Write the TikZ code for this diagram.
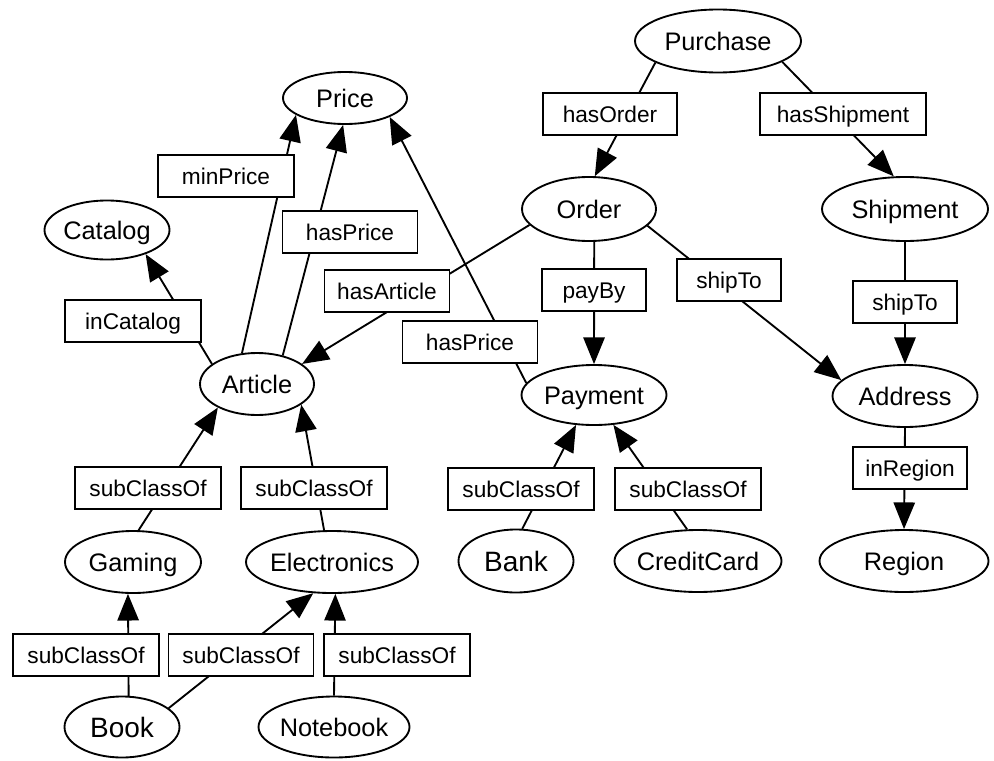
\documentclass[tikz,border=0pt]{standalone}
\usepackage{fontspec}
\setmainfont{Liberation Sans}
\usetikzlibrary{shapes.geometric,arrows.meta}
\begin{document}
\begin{tikzpicture}[x=0.75pt,y=-0.75pt,
  ell/.style={ellipse, draw, line width=1.4pt, fill=white, inner xsep=-8pt, inner ysep=0pt,
    minimum height=46.5pt, font=\fontsize{19}{19}\selectfont, text height=13.6pt, text depth=0pt},
  bigell/.style={ell, font=\fontsize{21}{21}\selectfont, text height=15pt},
  lbl/.style={rectangle, draw, line width=1.4pt, fill=white, inner sep=0pt,
    minimum height=31.5pt, font=\fontsize{17}{17}\selectfont, text height=12.2pt, text depth=0pt},
  conn/.style={line width=1.4pt, -{Triangle[length=20pt,width=16pt]}}
]
\useasboundingbox (0,0) rectangle (994,760);

% classes
\node[ell, minimum width=124.5pt, minimum height=47.25pt] (Purchase) at (718,41) {Purchase};
\node[ell, minimum width=93pt, minimum height=39pt] (Price) at (345,98) {Price};
\node[ell, minimum width=93.75pt, minimum height=44.25pt] (Catalog) at (107,230) {Catalog};
\node[ell, minimum width=85.5pt] (Article) at (257,384) {Article};
\node[ell, minimum width=100.5pt, minimum height=48pt] (Order) at (589,209) {Order};
\node[ell, minimum width=124.5pt, minimum height=48pt] (Shipment) at (905,209) {Shipment};
\node[ell, minimum width=108.75pt, minimum height=45pt] (Payment) at (594,395) {Payment};
\node[ell, minimum width=108.75pt] (Address) at (905,396) {Address};
\node[ell, minimum width=102pt] (Gaming) at (133,562) {Gaming};
\node[ell, minimum width=129pt] (Electronics) at (332,562) {Electronics};
\node[bigell, minimum width=86.25pt, minimum height=45.75pt] (Book) at (122,727) {Book};
\node[ell, minimum width=113.25pt, minimum height=45.75pt] (Notebook) at (334,727) {Notebook};
\node[bigell, minimum width=86.25pt, minimum height=47.25pt] (Bank) at (516,561) {Bank};
\node[ell, minimum width=125.25pt] (CreditCard) at (698,561) {CreditCard};
\node[ell, minimum width=126.75pt] (Region) at (904,561) {Region};

% relations
\draw[conn] (Purchase.199) -- (Order.80);
\draw[conn] (Purchase.-18.2) -- (Shipment.109.4);
\draw[conn] (Order.195.7) -- (Article.24.6);
\draw[conn] (Order.-81) -- (Payment.north);
\draw[conn] (Order.-16.3) -- (Address.166.8);
\draw[conn] (Shipment.south) -- (Address.north);
\draw[conn] (Article.156.5) -- (Catalog.-32.1);
\draw[conn] (Article.116.6) -- (Price.199.1);
\draw[conn] (Article.48.1) -- (Price.-94.2);
\draw[conn] (Payment.170.1) -- (Price.-23.6);
\draw[conn] (Gaming.80.8) -- (Article.211.9);
\draw[conn] (Electronics.104) -- (Article.-25.1);
\draw[conn] (Book.78.7) -- (Gaming.-99.2);
\draw[conn] (Book.22.4) -- (Electronics.-121.5);
\draw[conn] (Notebook.north) -- (Electronics.-84.5);
\draw[conn] (Bank.79) -- (Payment.-121.7);
\draw[conn] (CreditCard.109.5) -- (Payment.-57.5);
\draw[conn] (Address.south) -- (Region.north);

% relation labels
\node[lbl, minimum width=100.5pt] (hasOrder) at (610,114) {hasOrder};
\node[lbl, minimum width=124.5pt] (hasShipment) at (843,114) {hasShipment};
\node[lbl, minimum width=102pt] (minPrice) at (226,176) {minPrice};
\node[lbl, minimum width=101.25pt] (hasPriceA) at (350,232) {hasPrice};
\node[lbl, minimum width=93.75pt] (hasArticle) at (387,291) {hasArticle};
\node[lbl, minimum width=78pt] (payBy) at (594,290) {payBy};
\node[lbl, minimum width=78pt] (shipToA) at (729,280) {shipTo};
\node[lbl, minimum width=78pt] (shipToB) at (905,302) {shipTo};
\node[lbl, minimum width=102pt] (inCatalog) at (133,321) {inCatalog};
\node[lbl, minimum width=101.25pt] (hasPriceB) at (470,342) {hasPrice};
\node[lbl, minimum width=109.5pt] (subA) at (148,488) {subClassOf};
\node[lbl, minimum width=109.5pt] (subB) at (314,488) {subClassOf};
\node[lbl, minimum width=109.5pt] (subBank) at (521,489) {subClassOf};
\node[lbl, minimum width=109.5pt] (subCC) at (688,489) {subClassOf};
\node[lbl, minimum width=85.5pt] (inRegion) at (910,468) {inRegion};
\node[lbl, minimum width=109.5pt] (subC) at (86,655) {subClassOf};
\node[lbl, minimum width=108.75pt] (subD) at (241,655) {subClassOf};
\node[lbl, minimum width=109.5pt] (subE) at (397,655) {subClassOf};
\end{tikzpicture}
\end{document}
